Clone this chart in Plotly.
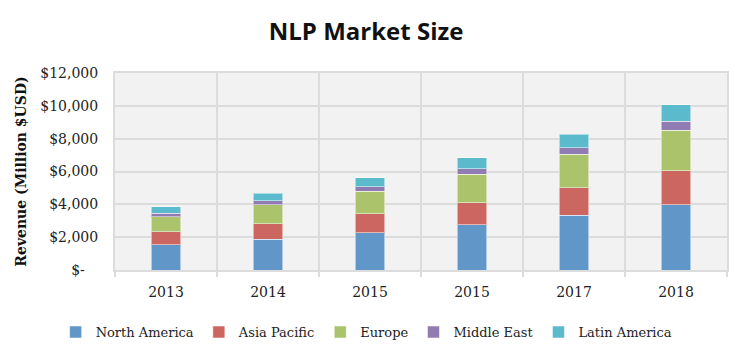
import plotly.graph_objects as go

years = ["2013", "2014", "2015", "2015", "2017", "2018"]
north_america = [1530, 1870, 2260, 2770, 3340, 3970]
asia_pacific = [790, 960, 1160, 1320, 1680, 2070]
europe = [930, 1140, 1380, 1730, 2020, 2480]
middle_east = [210, 260, 260, 340, 400, 530]
latin_america = [400, 450, 570, 690, 820, 1020]
y_ticks = [0, 2000, 4000, 6000, 8000, 10000, 12000]
y_tick_labels = ["$-\u00a0\u00a0\u00a0", "$2,000", "$4,000", "$6,000", "$8,000", "$10,000", "$12,000"]

# make duplicate labels distinct categories (zero-width space suffix)
cats = []
seen = {}
for y in years:
    n = seen.get(y, 0)
    cats.append(y + "\u200b" * n)
    seen[y] = n + 1

series = [
    ("North America", north_america, "#6196c9"),
    ("Asia Pacific", asia_pacific, "#cc6660"),
    ("Europe", europe, "#abc36b"),
    ("Middle East", middle_east, "#917bb3"),
    ("Latin America", latin_america, "#5cbacd"),
]

fig = go.Figure()
for name, vals, col in series:
    fig.add_trace(go.Bar(
        x=cats, y=vals, name=name,
        marker=dict(color=col, line=dict(color="rgba(255,255,255,0.5)", width=1)),
        width=0.285,
    ))

serif = "DejaVu Serif, serif"
fig.update_layout(
    barmode="stack",
    width=746, height=359,
    paper_bgcolor="white",
    plot_bgcolor="#f2f2f2",
    margin=dict(l=107, r=27, t=65, b=97),
    title=dict(text="<b>NLP Market Size</b>", x=0.48, xanchor="center", y=0.933, yanchor="middle",
               font=dict(family="Open Sans, sans-serif", size=24, color="#111")),
    font=dict(family=serif, size=14, color="#222"),
    showlegend=True,
    legend=dict(orientation="h", x=-0.097, xanchor="left", y=-0.315, yanchor="middle",
                font=dict(family=serif, size=13, color="#222"), traceorder="normal",
                itemwidth=30),
    xaxis=dict(type="category", tickson="boundaries", showgrid=True, gridcolor="#dcdcdc", gridwidth=2,
               ticks="outside", ticklen=5, tickcolor="#dcdcdc", tickwidth=2, ticklabelstandoff=8,
               showline=True, linecolor="#dcdcdc", linewidth=2, mirror=True,
               tickfont=dict(family=serif, size=14, color="#222")),
    yaxis=dict(range=[0, 12000], showgrid=True, gridcolor="#dcdcdc", gridwidth=2,
               tickmode="array", tickvals=y_ticks, ticktext=y_tick_labels, ticklabelstandoff=12,
               showline=True, linecolor="#dcdcdc", linewidth=2, mirror=True, zeroline=False,
               ticks="", tickfont=dict(family=serif, size=14, color="#222"),
               title=dict(text="<b>Revenue (Million $USD)</b>", standoff=10,
                          font=dict(family=serif, size=14, color="#111"))),
)

fig.write_html("out.html")
